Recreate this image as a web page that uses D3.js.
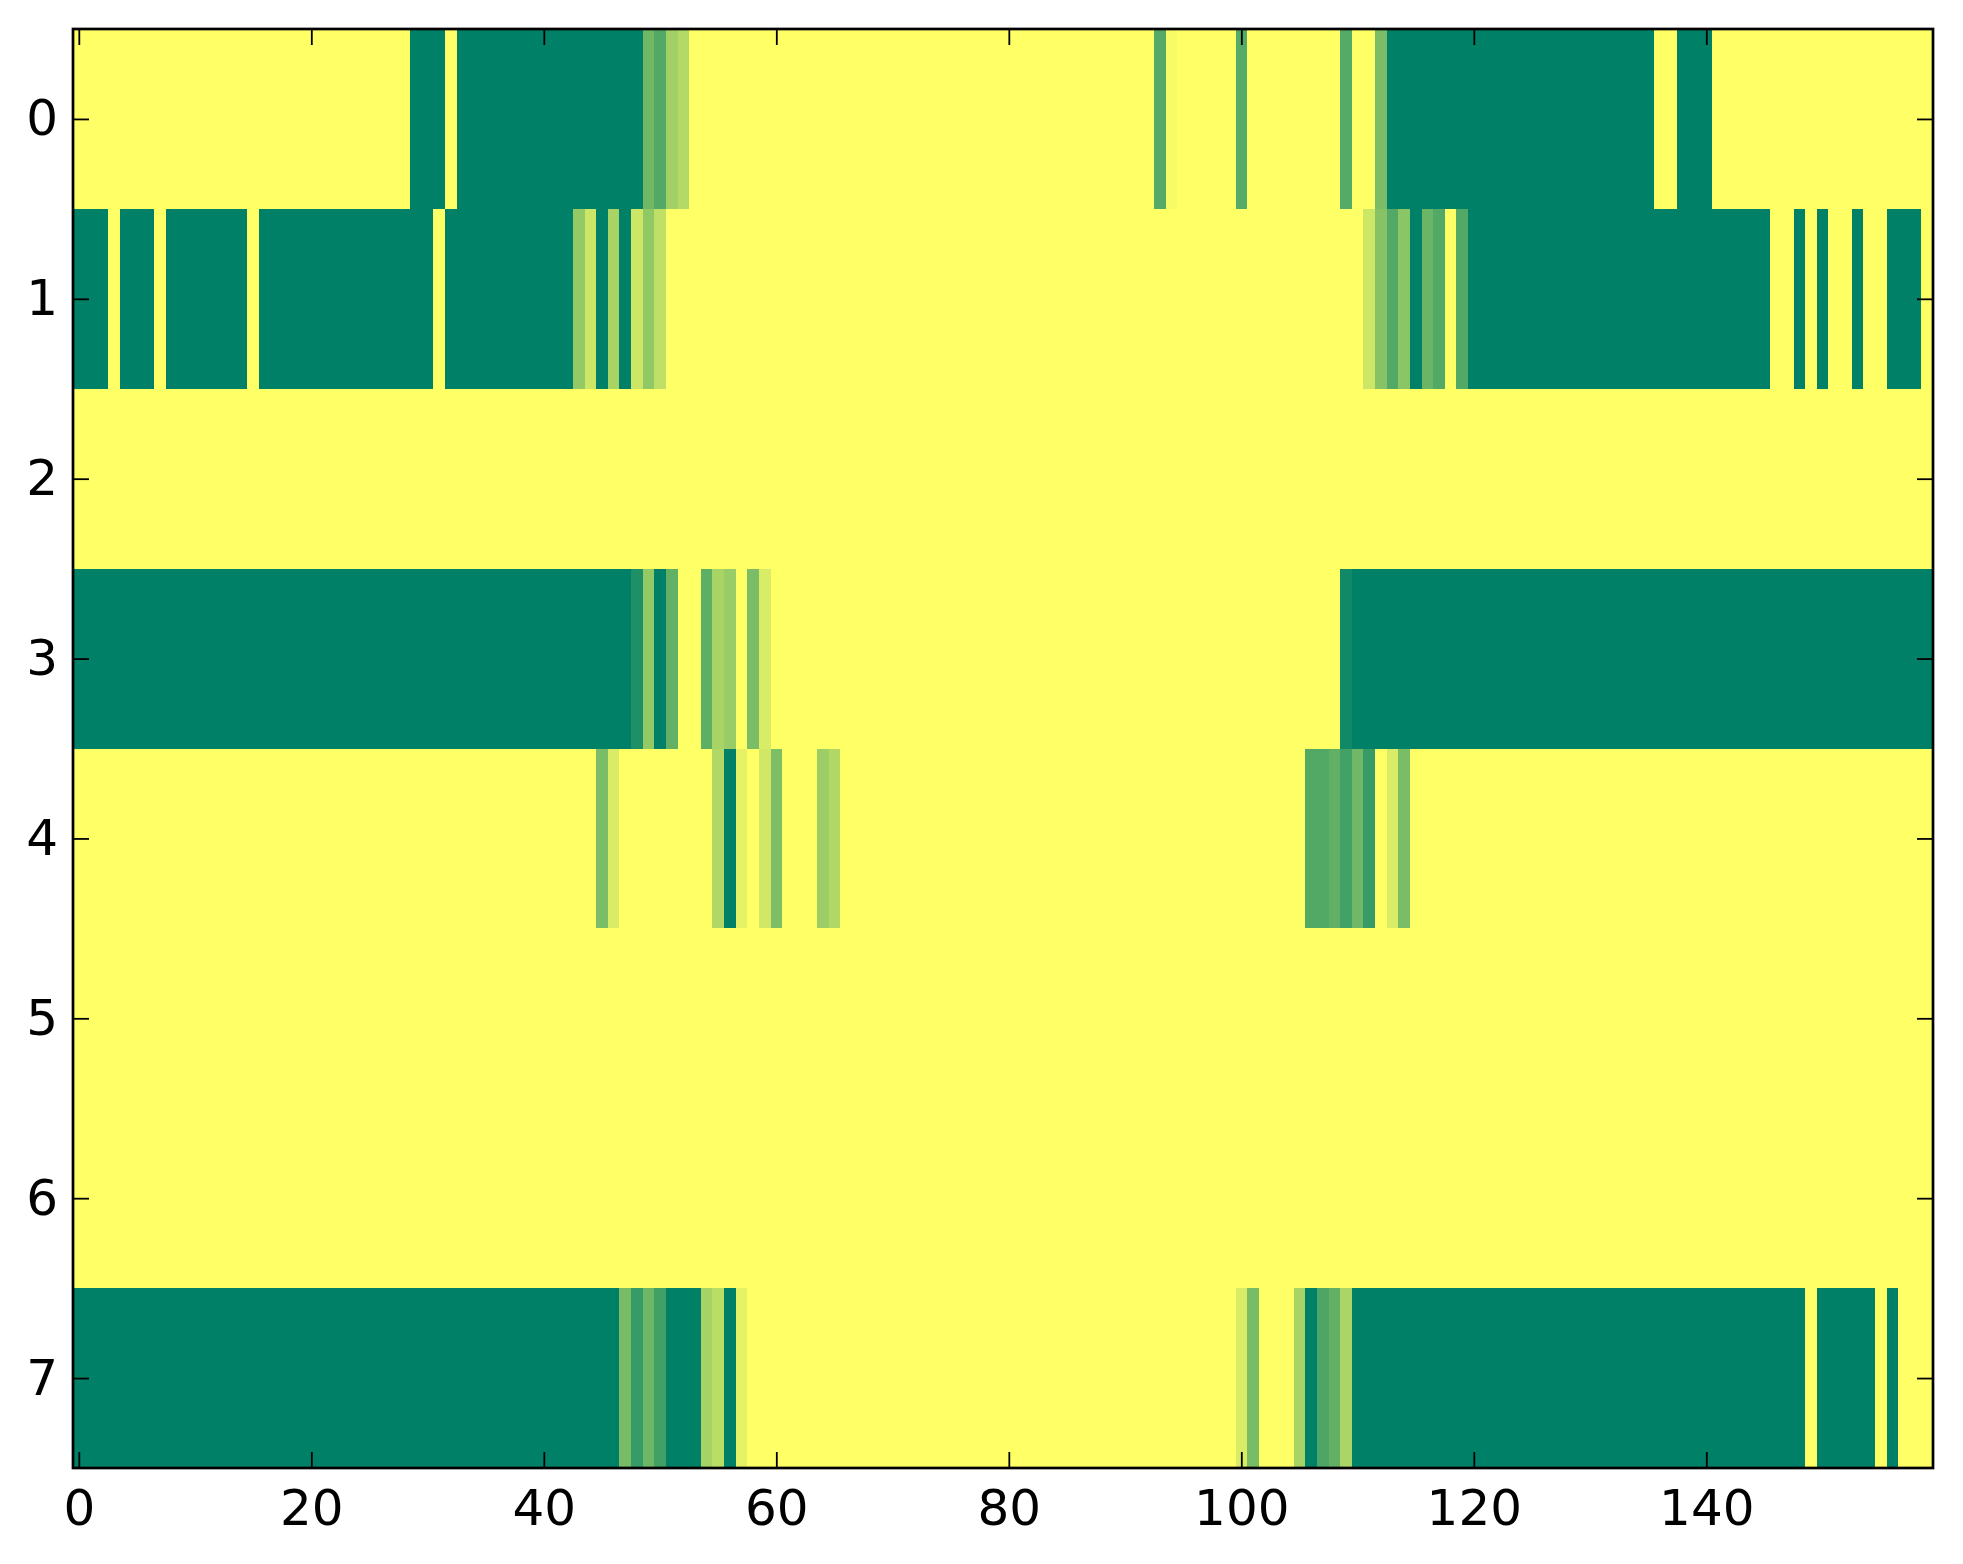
<!DOCTYPE html>
<html>
<head>
<meta charset="utf-8">
<script src="https://d3js.org/d3.v7.min.js"></script>
<style>
  html, body { margin: 0; padding: 0; background: #ffffff; }
  #heat-chart text { font-family: "DejaVu Sans", sans-serif; }
</style>
</head>
<body>
<div id="heat-chart"></div>
<script>

// values, one array per row, 160 columns each
let row0 = [
    1,1,1,1,1,1,1,1,1,1,1,1,1,1,1,1,1,1,1,1,
    1,1,1,1,1,1,1,1,1,0,0,0,1,0,0,0,0,0,0,0,
    0,0,0,0,0,0,0,0,0,0.44,0.32,0.63,0.70,1,1,1,1,1,1,1,
    1,1,1,1,1,1,1,1,1,1,1,1,1,1,1,1,1,1,1,1,
    1,1,1,1,1,1,1,1,1,1,1,1,1,0.33,0.97,1,1,1,1,1,
    0.33,1,1,1,1,1,1,1,1,0.33,1,1,0.48,0,0,0,0,0,0,0,
    0,0,0,0,0,0,0,0,0,0,0,0,0,0,0,0,1,1,0,0,
    0,1,1,1,1,1,1,1,1,1,1,1,1,1,1,1,1,1,1,1
];
let row1 = [
    0,0,0,1,0,0,0,1,0,0,0,0,0,0,0,1,0,0,0,0,
    0,0,0,0,0,0,0,0,0,0,0,1,0,0,0,0,0,0,0,0,
    0,0,0,0.58,0.80,0,0.66,0,0.80,0.57,0.75,1,1,1,1,1,1,1,1,1,
    1,1,1,1,1,1,1,1,1,1,1,1,1,1,1,1,1,1,1,1,
    1,1,1,1,1,1,1,1,1,1,1,1,1,1,1,1,1,1,1,1,
    1,1,1,1,1,1,1,1,1,1,1,0.80,0.53,0.32,0.54,0,0.42,0.32,1,0.32,
    0,0,0,0,0,0,0,0,0,0,0,0,0,0,0,0,0,0,0,0,
    0,0,0,0,0,0,1,1,0,1,0,1,1,0,1,1,0,0,0,1
];
let row2 = [
    1,1,1,1,1,1,1,1,1,1,1,1,1,1,1,1,1,1,1,1,
    1,1,1,1,1,1,1,1,1,1,1,1,1,1,1,1,1,1,1,1,
    1,1,1,1,1,1,1,1,1,1,1,1,1,1,1,1,1,1,1,1,
    1,1,1,1,1,1,1,1,1,1,1,1,1,1,1,1,1,1,1,1,
    1,1,1,1,1,1,1,1,1,1,1,1,1,1,1,1,1,1,1,1,
    1,1,1,1,1,1,1,1,1,1,1,1,1,1,1,1,1,1,1,1,
    1,1,1,1,1,1,1,1,1,1,1,1,1,1,1,1,1,1,1,1,
    1,1,1,1,1,1,1,1,1,1,1,1,1,1,1,1,1,1,1,1
];
let row3 = [
    0,0,0,0,0,0,0,0,0,0,0,0,0,0,0,0,0,0,0,0,
    0,0,0,0,0,0,0,0,0,0,0,0,0,0,0,0,0,0,0,0,
    0,0,0,0,0,0,0,0,0.12,0.58,0,0.38,1,1,0.37,0.66,0.60,1,0.48,0.85,
    1,1,1,1,1,1,1,1,1,1,1,1,1,1,1,1,1,1,1,1,
    1,1,1,1,1,1,1,1,1,1,1,1,1,1,1,1,1,1,1,1,
    1,1,1,1,1,1,1,1,1,0.07,0,0,0,0,0,0,0,0,0,0,
    0,0,0,0,0,0,0,0,0,0,0,0,0,0,0,0,0,0,0,0,
    0,0,0,0,0,0,0,0,0,0,0,0,0,0,0,0,0,0,0,0
];
let row4 = [
    1,1,1,1,1,1,1,1,1,1,1,1,1,1,1,1,1,1,1,1,
    1,1,1,1,1,1,1,1,1,1,1,1,1,1,1,1,1,1,1,1,
    1,1,1,1,1,0.48,0.85,1,1,1,1,1,1,1,1,0.69,0,0.90,1,0.82,
    0.49,1,1,1,0.61,0.69,1,1,1,1,1,1,1,1,1,1,1,1,1,1,
    1,1,1,1,1,1,1,1,1,1,1,1,1,1,1,1,1,1,1,1,
    1,1,1,1,1,1,0.32,0.32,0.38,0.26,0.44,0.21,1,0.85,0.48,1,1,1,1,1,
    1,1,1,1,1,1,1,1,1,1,1,1,1,1,1,1,1,1,1,1,
    1,1,1,1,1,1,1,1,1,1,1,1,1,1,1,1,1,1,1,1
];
let row5 = [
    1,1,1,1,1,1,1,1,1,1,1,1,1,1,1,1,1,1,1,1,
    1,1,1,1,1,1,1,1,1,1,1,1,1,1,1,1,1,1,1,1,
    1,1,1,1,1,1,1,1,1,1,1,1,1,1,1,1,1,1,1,1,
    1,1,1,1,1,1,1,1,1,1,1,1,1,1,1,1,1,1,1,1,
    1,1,1,1,1,1,1,1,1,1,1,1,1,1,1,1,1,1,1,1,
    1,1,1,1,1,1,1,1,1,1,1,1,1,1,1,1,1,1,1,1,
    1,1,1,1,1,1,1,1,1,1,1,1,1,1,1,1,1,1,1,1,
    1,1,1,1,1,1,1,1,1,1,1,1,1,1,1,1,1,1,1,1
];
let row6 = [
    1,1,1,1,1,1,1,1,1,1,1,1,1,1,1,1,1,1,1,1,
    1,1,1,1,1,1,1,1,1,1,1,1,1,1,1,1,1,1,1,1,
    1,1,1,1,1,1,1,1,1,1,1,1,1,1,1,1,1,1,1,1,
    1,1,1,1,1,1,1,1,1,1,1,1,1,1,1,1,1,1,1,1,
    1,1,1,1,1,1,1,1,1,1,1,1,1,1,1,1,1,1,1,1,
    1,1,1,1,1,1,1,1,1,1,1,1,1,1,1,1,1,1,1,1,
    1,1,1,1,1,1,1,1,1,1,1,1,1,1,1,1,1,1,1,1,
    1,1,1,1,1,1,1,1,1,1,1,1,1,1,1,1,1,1,1,1
];
let row7 = [
    0,0,0,0,0,0,0,0,0,0,0,0,0,0,0,0,0,0,0,0,
    0,0,0,0,0,0,0,0,0,0,0,0,0,0,0,0,0,0,0,0,
    0,0,0,0,0,0,0,0.47,0.21,0.43,0.25,0,0,0,0.65,0.73,0,0.90,1,1,
    1,1,1,1,1,1,1,1,1,1,1,1,1,1,1,1,1,1,1,1,
    1,1,1,1,1,1,1,1,1,1,1,1,1,1,1,1,1,1,1,1,
    0.85,0.47,1,1,1,0.66,0,0.30,0.38,0.67,0,0,0,0,0,0,0,0,0,0,
    0,0,0,0,0,0,0,0,0,0,0,0,0,0,0,0,0,0,0,0,
    0,0,0,0,0,0,0,0,0,1,0,0,0,0,0,1,0,1,1,1
];

let rows = [row0, row1, row2, row3, row4, row5, row6, row7];
let xTicks = [0, 20, 40, 60, 80, 100, 120, 140];
let yTicks = [0, 1, 2, 3, 4, 5, 6, 7];


class HeatChart {

    constructor (rows) {
	this.rows = rows;
	this.svgWidth = 1963;
	this.svgHeight = 1564;
	this.plot = {left: 73, top: 29, right: 1933, bottom: 1468};
	this.svg = d3.select("#heat-chart").append("svg")
	    .attr("width", this.svgWidth)
	    .attr("height", this.svgHeight);
    }

    update () {
	let p = this.plot;
	let nCols = this.rows[0].length;

	let xScale = d3.scaleLinear()
		.domain([-0.5, nCols - 0.5])
		.range([p.left, p.right]);
	let yScale = d3.scaleLinear()
		.domain([-0.5, this.rows.length - 0.5])
		.range([p.top, p.bottom]);
	// matplotlib "summer": green at 0, yellow at 1
	let colour = d3.scaleLinear()
		.domain([0, 1])
		.range(["#008066", "#ffff66"])
		.interpolate(d3.interpolateRgb);

	let cells = [];
	this.rows.forEach(function(row, r){
	    row.forEach(function(v, c){
		cells.push({r: r, c: c, v: v});
	    });
	});

	this.svg.append("g")
	    .attr("class", "cells")
	    .selectAll("rect")
	    .data(cells)
	    .enter()
	    .append("rect")
	    .attr("x", function(d){ return xScale(d.c - 0.5); })
	    .attr("y", function(d){ return yScale(d.r - 0.5); })
	    .attr("width", function(d){ return xScale(d.c + 0.5) - xScale(d.c - 0.5); })
	    .attr("height", function(d){ return yScale(d.r + 0.5) - yScale(d.r - 0.5); })
	    .attr("fill", function(d){ return colour(d.v); })
	    .attr("shape-rendering", "crispEdges");

	let tickLen = 16;

	let bottomAxis = d3.axisBottom(xScale)
		.tickValues(xTicks)
		.tickSizeInner(-tickLen)
		.tickSizeOuter(0)
		.tickPadding(21);
	let topAxis = d3.axisTop(xScale)
		.tickValues(xTicks)
		.tickSizeInner(-tickLen)
		.tickSizeOuter(0)
		.tickFormat("");
	let leftAxis = d3.axisLeft(yScale)
		.tickValues(yTicks)
		.tickSizeInner(-tickLen)
		.tickSizeOuter(0)
		.tickPadding(15);
	let rightAxis = d3.axisRight(yScale)
		.tickValues(yTicks)
		.tickSizeInner(-tickLen)
		.tickSizeOuter(0)
		.tickFormat("");

	let axes = [
	    {axis: bottomAxis, tx: 0, ty: p.bottom},
	    {axis: topAxis, tx: 0, ty: p.top},
	    {axis: leftAxis, tx: p.left, ty: 0},
	    {axis: rightAxis, tx: p.right, ty: 0}
	];
	let svg = this.svg;
	axes.forEach(function(a){
	    let g = svg.append("g")
		    .attr("transform", "translate(" + a.tx + "," + a.ty + ")")
		    .call(a.axis);
	    g.select(".domain").remove();
	    g.selectAll(".tick line")
		.attr("stroke", "#000")
		.attr("stroke-width", 1.8);
	    g.selectAll(".tick text")
		.attr("fill", "#000")
		.style("font-size", "50px")
		.style("font-family", "'DejaVu Sans', sans-serif");
	});

	// frame round the image
	this.svg.append("rect")
	    .attr("x", p.left)
	    .attr("y", p.top)
	    .attr("width", p.right - p.left)
	    .attr("height", p.bottom - p.top)
	    .attr("fill", "none")
	    .attr("stroke", "#000")
	    .attr("stroke-width", 2.7);
    }

};

let chart = new HeatChart(rows);
chart.update();

</script>
</body>
</html>
